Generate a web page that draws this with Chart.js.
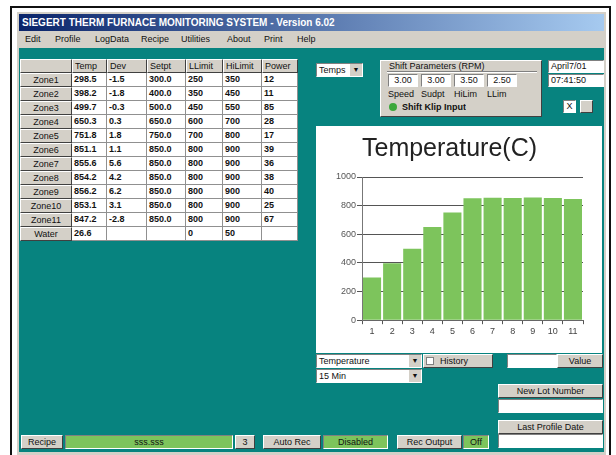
<!DOCTYPE html>
<html>
<head>
<meta charset="utf-8">
<script src="https://cdn.jsdelivr.net/npm/chart.js@4"></script>
<style>
body{margin:0;width:616px;height:455px;background:#fff;position:relative;overflow:hidden;font-family:"Liberation Sans",Arial,sans-serif;font-size:9px;color:#111;}
.a{position:absolute;box-sizing:border-box;white-space:nowrap;overflow:hidden;}
.btn{background:#d4d0c8;border:1px solid;border-color:#fff #404040 #404040 #fff;text-align:center;}
.box{background:#fff;border:1px solid;border-color:#808080 #fff #fff #808080;padding-left:2px;}
.green{background:#7dc45c;border:1px solid;border-color:#808080 #fff #fff #808080;text-align:center;}
.cell{background:#fff;border-right:1px solid #909090;border-bottom:1px solid #909090;padding-left:2px;font-weight:bold;}
.arrow{position:absolute;right:0;top:0;width:12px;height:100%;background:#d4d0c8;border-left:1px solid #fff;font-size:7px;text-align:center;}
</style>
</head>
<body>
<div class="a" style="left:10px;top:6px;width:601px;height:460px;border:2px solid #111;border-bottom:none;"></div>
<div class="a" style="left:17px;top:12px;width:589px;height:443px;background:#d4d0c8;"></div>
<div class="a" style="left:19px;top:14px;width:585px;height:17px;background:linear-gradient(to right,#0a246a,#a6caf0);color:#fff;font-weight:bold;font-size:10px;line-height:17px;padding-left:3px;">SIEGERT THERM FURNACE MONITORING SYSTEM - Version 6.02</div>
<div class="a" id="menu" style="left:0px;top:31px;width:604px;height:17px;line-height:17px;"></div>
<div class="a" style="left:19px;top:48px;width:585px;height:404px;background:#07837f;"></div>
<div id="grid"></div>

<div class="a box" style="left:316px;top:63px;width:47px;height:14px;line-height:12px;">Temps<span class="arrow">&#9660;</span></div>

<div class="a" style="left:380px;top:60px;width:162px;height:57px;background:#d4d0c8;border:1px solid;border-color:#fff #404040 #404040 #fff;"></div>
<div class="a" style="left:389px;top:61px;line-height:10px;">Shift Parameters (RPM)</div>
<div class="a" style="left:387px;top:71px;width:150px;height:2px;border-top:1px solid #808080;border-bottom:1px solid #fff;"></div>
<div id="shift"></div>
<div class="a" style="left:389px;top:103px;width:8px;height:8px;border-radius:4px;background:#3ca83c;"></div>
<div class="a" style="left:402px;top:101px;line-height:12px;font-weight:bold;">Shift Klip Input</div>

<div class="a box" style="left:548px;top:60px;width:56px;height:13px;line-height:11px;">April7/01</div>
<div class="a box" style="left:548px;top:74px;width:56px;height:13px;line-height:11px;">07:41:50</div>
<div class="a box" style="left:563px;top:100px;width:13px;height:13px;line-height:11px;padding:0;text-align:center;">X</div>
<div class="a btn" style="left:580px;top:100px;width:13px;height:13px;"></div>

<div class="a" style="left:316px;top:126px;width:286px;height:227px;background:#fff;">
<canvas id="c" width="286" height="227"></canvas>
</div>

<div class="a box" style="left:316px;top:354px;width:106px;height:14px;line-height:12px;">Temperature<span class="arrow">&#9660;</span></div>
<div class="a btn" style="left:423px;top:354px;width:70px;height:14px;line-height:12px;text-align:left;padding-left:16px;">History</div>
<div class="a" style="left:426px;top:357px;width:8px;height:8px;background:#fff;border:1px solid #808080;"></div>
<div class="a box" style="left:507px;top:354px;width:50px;height:14px;"></div>
<div class="a btn" style="left:557px;top:354px;width:46px;height:14px;line-height:12px;">Value</div>
<div class="a box" style="left:316px;top:369px;width:106px;height:14px;line-height:12px;">15 Min<span class="arrow">&#9660;</span></div>

<div class="a btn" style="left:498px;top:384px;width:105px;height:14px;line-height:12px;">New Lot Number</div>
<div class="a box" style="left:498px;top:399px;width:105px;height:14px;"></div>
<div class="a btn" style="left:498px;top:420px;width:105px;height:14px;line-height:12px;">Last Profile Date</div>
<div class="a box" style="left:498px;top:434px;width:105px;height:14px;"></div>

<div class="a btn" style="left:21px;top:435px;width:42px;height:14px;line-height:12px;">Recipe</div>
<div class="a green" style="left:65px;top:435px;width:168px;height:14px;line-height:12px;">sss.sss</div>
<div class="a btn" style="left:235px;top:435px;width:20px;height:14px;line-height:12px;">3</div>
<div class="a btn" style="left:263px;top:435px;width:58px;height:14px;line-height:12px;">Auto Rec</div>
<div class="a green" style="left:323px;top:435px;width:65px;height:14px;line-height:12px;">Disabled</div>
<div class="a btn" style="left:397px;top:435px;width:65px;height:14px;line-height:12px;">Rec Output</div>
<div class="a green" style="left:463px;top:435px;width:26px;height:14px;line-height:12px;">Off</div>

<script>
const menuItems = ['Edit', 'Profile', 'LogData', 'Recipe', 'Utilities', 'About', 'Print', 'Help'];
const menuX = [25, 55, 95, 141, 181, 227, 264, 297];

const columns = ['', 'Temp', 'Dev', 'Setpt', 'LLimit', 'HiLimit', 'Power'];
const zones = ['Zone1', 'Zone2', 'Zone3', 'Zone4', 'Zone5', 'Zone6', 'Zone7', 'Zone8', 'Zone9', 'Zone10', 'Zone11'];
const temps = [298.5, 398.2, 499.7, 650.3, 751.8, 851.1, 855.6, 854.2, 856.2, 853.1, 847.2];
const devs = ['-1.5', '-1.8', '-0.3', '0.3', '1.8', '1.1', '5.6', '4.2', '6.2', '3.1', '-2.8'];
const setpts = ['300.0', '400.0', '500.0', '650.0', '750.0', '850.0', '850.0', '850.0', '850.0', '850.0', '850.0'];
const lowLimits = [250, 350, 450, 600, 700, 800, 800, 800, 800, 800, 800];
const hiLimits = [350, 450, 550, 700, 800, 900, 900, 900, 900, 900, 900];
const power = [12, 11, 85, 28, 17, 39, 36, 38, 40, 25, 67];
const waterRow = ['Water', '26.6', '', '', '0', '50', ''];

const shiftValues = ['3.00', '3.00', '3.50', '2.50'];
const shiftLabels = ['Speed', 'Sudpt', 'HiLim', 'LLim'];

const barLabels = ['1', '2', '3', '4', '5', '6', '7', '8', '9', '10', '11'];

// menu
let menuHtml = '';
for (let i = 0; i < menuItems.length; i++) {
    menuHtml += '<span style="position:absolute;left:' + menuX[i] + 'px;">' + menuItems[i] + '</span>';
}
document.getElementById('menu').innerHTML = menuHtml;

// zone table
const colX = [20, 72, 107, 147, 186, 223, 262, 298];
const rowH = 14;
let rows = [columns];
for (let i = 0; i < zones.length; i++) {
    rows.push([zones[i], temps[i].toFixed(1), devs[i], setpts[i], lowLimits[i], hiLimits[i], power[i]]);
}
rows.push(waterRow);

let html = '';
for (let r = 0; r < rows.length; r++) {
    for (let c = 0; c < columns.length; c++) {
        let cls = (r === 0 || c === 0) ? 'btn' : 'cell';
        let style = 'left:' + colX[c] + 'px;top:' + (59 + r * rowH) + 'px;width:' + (colX[c + 1] - colX[c]) + 'px;height:' + rowH + 'px;line-height:12px;';
        if (r === 0 && c > 0) style += 'text-align:left;padding-left:2px;';
        html += '<div class="a ' + cls + '" style="' + style + '">' + rows[r][c] + '</div>';
    }
}
document.getElementById('grid').innerHTML = html;

// shift parameters
let sh = '';
for (let i = 0; i < shiftValues.length; i++) {
    let x = 388 + i * 33;
    sh += '<div class="a box" style="left:' + x + 'px;top:74px;width:30px;height:13px;line-height:11px;text-align:center;padding:0;">' + shiftValues[i] + '</div>';
    sh += '<div class="a" style="left:' + x + 'px;top:88px;width:30px;line-height:12px;">' + shiftLabels[i] + '</div>';
}
document.getElementById('shift').innerHTML = sh;

// temperature chart
const ctx = document.getElementById('c').getContext('2d');
const myChart = new Chart(ctx, {
    type: 'bar',
    data: {
        labels: barLabels,
        datasets: [{
            data: temps,
            backgroundColor: '#7dc45c',
            borderWidth: 0,
            barPercentage: 0.9,
            categoryPercentage: 1
        }]
    },
    options: {
        responsive: false,
        animation: false,
        layout: { padding: { top: 0, right: 19, bottom: 14, left: 0 } },
        plugins: {
            legend: { display: false },
            tooltip: { enabled: false },
            title: {
                display: true,
                text: 'Temperature(C)',
                color: '#222',
                font: { family: 'Liberation Sans, Arial, sans-serif', size: 25, weight: 'normal', lineHeight: 1.2 },
                padding: { top: 8, bottom: 13 }
            }
        },
        scales: {
            x: {
                grid: { offset: true, drawOnChartArea: false, tickLength: 4, color: '#555' },
                border: { color: '#666' },
                ticks: { color: '#444', font: { size: 9 }, padding: 2 }
            },
            y: {
                min: 0,
                max: 1000,
                ticks: {
                    stepSize: 200,
                    color: '#555',
                    font: { size: 9 },
                    padding: 1,
                    callback: function(value) { return String(value); }
                },
                grid: { color: '#555', tickLength: 5 },
                border: { color: '#777' },
                afterFit: function(scale) { scale.width = 46; }
            }
        }
    }
});
</script>
</body>
</html>
